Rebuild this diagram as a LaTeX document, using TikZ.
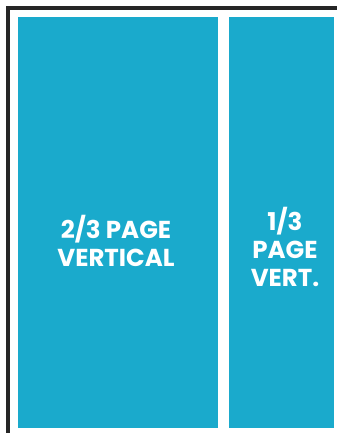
\documentclass[tikz,border=0pt]{standalone}
\usepackage{fontspec}
\setmainfont{Poppins}
\definecolor{adblue}{RGB}{26,170,204}
\begin{document}
\begin{tikzpicture}[x=1pt,y=-1pt,
  adbox/.style={fill=adblue,draw=none},
  adlabel/.style={text=white,font=\bfseries\fontsize{24.5}{28}\selectfont,align=center,inner sep=0pt},
  frameline/.style={draw=black!85,line width=3.5pt}]
\useasboundingbox (0,0) rectangle (337,433);
\coordinate (fa) at (8,433);
\coordinate (fb) at (8,8);
\coordinate (fc) at (337,8);
\draw[frameline] (fa) -- (fb) -- (fc);
\path[adbox] (18,17.5) rectangle (218,428);
\path[adbox] (229,17) rectangle (334,428);
\node[adlabel] (lt) at (116,241) {2/3 PAGE\\VERTICAL};
\node[adlabel] (rt) at (285,247) {1/3\\PAGE\\VERT.};
\end{tikzpicture}
\end{document}
